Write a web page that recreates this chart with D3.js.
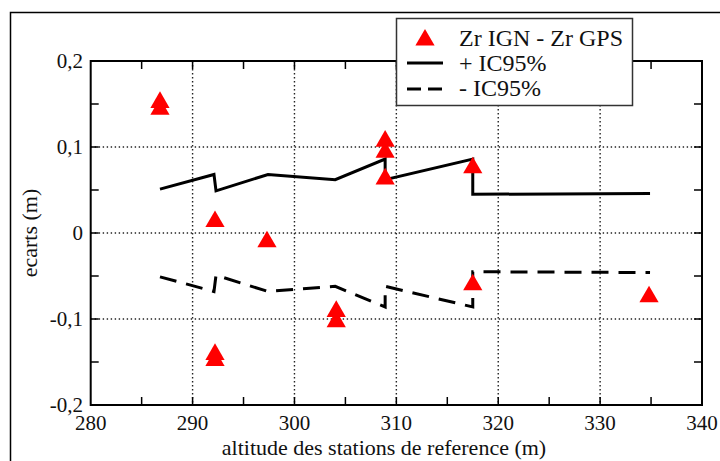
<!DOCTYPE html>
<html>
<head>
<meta charset="utf-8">
<script src="https://cdn.jsdelivr.net/npm/d3@7"></script>
<style>
  body { margin: 0; background: #fff; }
  svg text { font-family: "Liberation Serif", "Times New Roman", serif; fill: #111; }
</style>
</head>
<body>
<svg id="chart" width="720" height="461"></svg>
<script>
// values
var ecartAlt = [286.8, 286.8, 292.2, 292.2, 292.2, 297.3, 304.1, 304.1, 308.9, 308.9, 308.9, 317.5, 317.5, 334.8];
var ecartVal = [0.153, 0.145, 0.0145, -0.140, -0.147, -0.009, -0.090, -0.102, 0.108, 0.095, 0.064, 0.077, -0.059, -0.073];

var icAlt   = [286.8, 292.1, 292.3, 297.4, 304.0, 308.9, 308.9, 317.5, 317.5, 334.9];
var icPlus  = [0.051, 0.068, 0.049, 0.068, 0.062, 0.086, 0.062, 0.086, 0.045, 0.046];
var icMinus = [-0.051, -0.068, -0.049, -0.068, -0.062, -0.086, -0.062, -0.086, -0.045, -0.046];

var xMajor = [280, 290, 300, 310, 320, 330, 340];
var xMinor = [285, 295, 305, 315, 325, 335];
var yMajor = [-0.2, -0.1, 0, 0.1, 0.2];
var yMinor = [-0.15, -0.05, 0.05, 0.15];

var legendLabels = ["Zr IGN - Zr GPS", "+ IC95%", "- IC95%"];

var svg = d3.select("#chart");

var x = d3.scaleLinear().domain([280, 340]).range([90.7, 702]);
var y = d3.scaleLinear().domain([-0.2, 0.2]).range([405, 61]);

var fmt = d => String(d).replace(".", ",");

// outer frame of the figure
svg.append("path")
    .attr("d", "M10.5,470 L10.5,12.5 L730,12.5")
    .attr("fill", "none")
    .attr("stroke", "#000")
    .attr("stroke-width", 1.5);

// dotted grid
var grid = svg.append("g").attr("stroke", "#222").attr("stroke-width", 1.4).attr("stroke-dasharray", "1.4,2.6");
grid.selectAll("line.gx").data(xMajor.slice(1, -1))
    .join("line").attr("class", "gx")
    .attr("x1", d => x(d)).attr("x2", d => x(d))
    .attr("y1", y(0.2)).attr("y2", y(-0.2));
grid.selectAll("line.gy").data(yMajor.slice(1, -1))
    .join("line").attr("class", "gy")
    .attr("x1", x(280)).attr("x2", x(340))
    .attr("y1", d => y(d)).attr("y2", d => y(d));

// ticks on all four sides, pointing in
var ticks = svg.append("g").attr("stroke", "#000").attr("stroke-width", 1.5);
var tl = 8;
var allX = xMajor.slice(1, -1).concat(xMinor);
var allY = yMajor.slice(1, -1).concat(yMinor);
ticks.selectAll("line.tb").data(allX).join("line").attr("class", "tb")
    .attr("x1", d => x(d)).attr("x2", d => x(d))
    .attr("y1", y(-0.2)).attr("y2", y(-0.2) - tl);
ticks.selectAll("line.tt").data(allX).join("line").attr("class", "tt")
    .attr("x1", d => x(d)).attr("x2", d => x(d))
    .attr("y1", y(0.2)).attr("y2", y(0.2) + tl);
ticks.selectAll("line.tl").data(allY).join("line").attr("class", "tl")
    .attr("x1", x(280)).attr("x2", x(280) + tl)
    .attr("y1", d => y(d)).attr("y2", d => y(d));
ticks.selectAll("line.tr").data(allY).join("line").attr("class", "tr")
    .attr("x1", x(340)).attr("x2", x(340) - tl)
    .attr("y1", d => y(d)).attr("y2", d => y(d));

// plot frame
svg.append("rect")
    .attr("x", x(280)).attr("y", y(0.2))
    .attr("width", x(340) - x(280)).attr("height", y(-0.2) - y(0.2))
    .attr("fill", "none").attr("stroke", "#000").attr("stroke-width", 2);

// tick labels
svg.append("g").selectAll("text").data(xMajor).join("text")
    .attr("x", d => x(d)).attr("y", 430)
    .attr("text-anchor", "middle")
    .style("font-size", "21px")
    .text(fmt);
svg.append("g").selectAll("text").data(yMajor).join("text")
    .attr("x", 83).attr("y", d => y(d))
    .attr("dy", "0.32em")
    .attr("text-anchor", "end")
    .style("font-size", "21px")
    .text(fmt);

// axis titles
svg.append("text")
    .attr("x", 384).attr("y", 455)
    .attr("text-anchor", "middle")
    .style("font-size", "22px")
    .text("altitude des stations de reference (m)");
svg.append("text")
    .attr("transform", "translate(37," + y(0) + ") rotate(-90)")
    .attr("text-anchor", "middle")
    .style("font-size", "22px")
    .text("ecarts (m)");

// IC95% lines
var line = d3.line().x(d => x(d[0])).y(d => y(d[1]));
svg.append("path")
    .datum(d3.zip(icAlt, icPlus))
    .attr("d", line)
    .attr("fill", "none").attr("stroke", "#000").attr("stroke-width", 3);
svg.append("path")
    .datum(d3.zip(icAlt, icMinus))
    .attr("d", line)
    .attr("fill", "none").attr("stroke", "#000").attr("stroke-width", 3)
    .attr("stroke-dasharray", "17,10");

// triangles
var tri = d3.symbol().type(d3.symbolTriangle).size(160);
svg.append("g").selectAll("path").data(d3.zip(ecartAlt, ecartVal)).join("path")
    .attr("transform", d => "translate(" + x(d[0]) + "," + (y(d[1]) + 1) + ")")
    .attr("d", tri)
    .attr("fill", "#f00");

// legend
var lg = svg.append("g");
lg.append("rect")
    .attr("x", 396.5).attr("y", 18.5).attr("width", 236).attr("height", 87)
    .attr("fill", "#fff").attr("stroke", "#333").attr("stroke-width", 1.5);
lg.append("path")
    .attr("transform", "translate(425,40)")
    .attr("d", tri).attr("fill", "#f00");
lg.append("line")
    .attr("x1", 407).attr("x2", 443).attr("y1", 63).attr("y2", 63)
    .attr("stroke", "#000").attr("stroke-width", 3);
lg.append("line")
    .attr("x1", 407).attr("x2", 443).attr("y1", 89).attr("y2", 89)
    .attr("stroke", "#000").attr("stroke-width", 3)
    .attr("stroke-dasharray", "14,7");
lg.selectAll("text").data(legendLabels).join("text")
    .attr("x", 459).attr("y", (d, i) => 46 + i * 25)
    .style("font-size", "24px")
    .text(d => d);
</script>
</body>
</html>
